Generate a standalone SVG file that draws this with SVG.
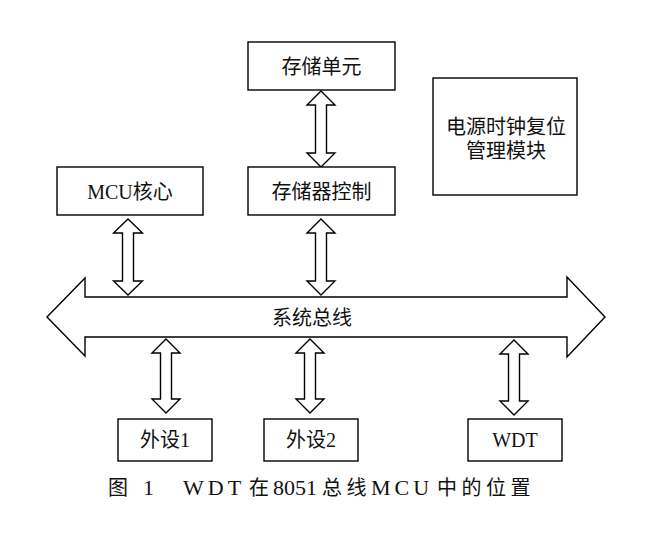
<svg xmlns="http://www.w3.org/2000/svg" width="672" height="538" viewBox="0 0 672 538">
<style>
.box{fill:#fff;stroke:#000;stroke-width:1.4}
.arr{fill:#fff;stroke:#000;stroke-width:1.4;stroke-linejoin:miter}
.t{font-family:"Liberation Serif","Noto Sans CJK SC",serif;font-size:20px;fill:#111;text-anchor:middle;dominant-baseline:central}
.cap{font-family:"Liberation Serif","Noto Sans CJK SC",serif;font-size:20px;fill:#111}
.lat{font-size:22px}
</style>
<rect width="672" height="538" fill="#fff"/>
<g id="connectors">
<polygon class="arr" points="321,91 335,105 326.5,105 326.5,153 335,153 321,167 307,153 315.5,153 315.5,105 307,105"/>
<polygon class="arr" points="128,219 142.5,233 133.5,233 133.5,281 142.5,281 128,295 113.5,281 122.5,281 122.5,233 113.5,233"/>
<polygon class="arr" points="321,219 335,233 326.5,233 326.5,281 335,281 321,295 307,281 315.5,281 315.5,233 307,233"/>
<polygon class="arr" points="166,339 180,353 171.5,353 171.5,399 180,399 166,413 152,399 160.5,399 160.5,353 152,353"/>
<polygon class="arr" points="310,339 324,353 315.5,353 315.5,399 324,399 310,413 296,399 304.5,399 304.5,353 296,353"/>
<polygon class="arr" points="514,340 528,354 519.5,354 519.5,401 528,401 514,415 500,401 508.5,401 508.5,354 500,354"/>
</g>
<g id="bus">
<polygon class="arr" points="47,317 85,278 85,297 567,297 567,277 605,317 567,357 567,337 85,337 85,356"/>
<text class="t" x="312" y="318">系统总线</text>
</g>
<g id="storage-unit"><rect class="box" x="248" y="42" width="147" height="48"/><text class="t" x="321.5" y="67">存储单元</text></g>
<g id="storage-ctrl"><rect class="box" x="248" y="167" width="147" height="48"/><text class="t" x="321.5" y="192">存储器控制</text></g>
<g id="mcu"><rect class="box" x="57" y="167" width="146" height="48"/><text class="t" x="130" y="192">MCU核心</text></g>
<g id="power"><rect class="box" x="433" y="78" width="144" height="117"/><text class="t" x="506" y="127">电源时钟复位</text><text class="t" x="506" y="151">管理模块</text></g>
<g id="periph1"><rect class="box" x="118" y="419" width="94" height="42"/><text class="t" x="165" y="440">外设1</text></g>
<g id="periph2"><rect class="box" x="264" y="419" width="94" height="42"/><text class="t" x="311" y="440">外设2</text></g>
<g id="wdt"><rect class="box" x="468" y="419" width="94" height="42"/><text class="t" x="515" y="440">WDT</text></g>
<text class="cap" y="495"><tspan x="108">图</tspan><tspan class="lat" x="143">1</tspan><tspan class="lat" x="183" letter-spacing="4">WDT</tspan><tspan x="249">在</tspan><tspan class="lat" x="273">8051</tspan><tspan x="322" letter-spacing="4.5">总线</tspan><tspan class="lat" x="371" letter-spacing="4">MCU</tspan><tspan x="437" letter-spacing="4.5">中的位置</tspan></text>
</svg>
